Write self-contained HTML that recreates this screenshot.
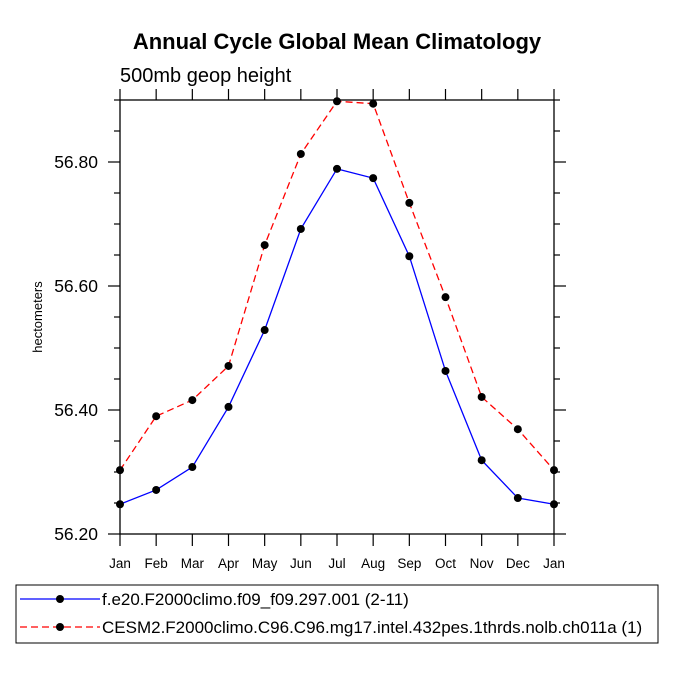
<!DOCTYPE html>
<html><head><meta charset="utf-8"><style>
body{margin:0;background:#fff}
svg text{font-family:"Liberation Sans",Arial,sans-serif;fill:#000}
</style></head><body>
<svg width="675" height="675" xmlns="http://www.w3.org/2000/svg">
<text x="337" y="49" text-anchor="middle" font-size="22" font-weight="bold">Annual Cycle Global Mean Climatology</text>
<text x="120" y="82" font-size="20">500mb geop height</text>
<text transform="translate(42,317) rotate(-90)" text-anchor="middle" font-size="13">hectometers</text>
<g id="axes"></g>
<g id="series"></g>
<rect x="16" y="585" width="642" height="58" fill="none" stroke="#000" stroke-width="1"/>
<g>
<line x1="20" y1="599" x2="100" y2="599" stroke="#0000ff" stroke-width="1.3"/>
<circle cx="60" cy="599" r="4" fill="#000"/>
<text x="102" y="605" font-size="17">f.e20.F2000climo.f09_f09.297.001 (2-11)</text>
</g>
<g>
<line x1="20" y1="627" x2="100" y2="627" stroke="#ff0000" stroke-width="1.3" stroke-dasharray="7,4"/>
<circle cx="60" cy="627" r="4" fill="#000"/>
<text x="102" y="633" font-size="17">CESM2.F2000climo.C96.C96.mg17.intel.432pes.1thrds.nolb.ch011a (1)</text>
</g>
</svg>
<script>
const months=["Jan","Feb","Mar","Apr","May","Jun","Jul","Aug","Sep","Oct","Nov","Dec","Jan"];
const yTicks=[56.2,56.4,56.6,56.8];
const yTickLabels=["56.20","56.40","56.60","56.80"];
const blueValues=[56.248,56.271,56.308,56.405,56.529,56.692,56.789,56.774,56.648,56.463,56.319,56.258,56.248];
const redValues=[56.303,56.390,56.416,56.471,56.666,56.813,56.898,56.894,56.734,56.582,56.421,56.369,56.303];
const L=120,R=554,T=100,B=534,yMin=56.2,yMax=56.9;
const xs=i=>L+(R-L)*i/(months.length-1);
const ys=v=>B-(v-yMin)/(yMax-yMin)*(B-T);
const NS="http://www.w3.org/2000/svg";
function mk(t,a,p){const e=document.createElementNS(NS,t);for(const k in a)e.setAttribute(k,a[k]);p.appendChild(e);return e;}
const ax=document.getElementById('axes');
const frame=mk('rect',{x:L,y:T,width:R-L,height:B-T,fill:'none',stroke:'#000','stroke-width':1.3},ax);


months.forEach((m,i)=>{const x=xs(i);
mk('line',{x1:x,y1:B,x2:x,y2:B+12,stroke:'#000','stroke-width':1.2},ax);
mk('line',{x1:x,y1:T,x2:x,y2:T-11,stroke:'#000','stroke-width':1.2},ax);
const t=mk('text',{x:x,y:B+34,'text-anchor':'middle','font-size':13.5},ax);t.textContent=m;

});
for(let v=yMin;v<=yMax+1e-9;v+=0.05){const y=ys(v);const major=Math.abs((v-yMin)/0.2-Math.round((v-yMin)/0.2))<1e-6;const len=major?12:6;
mk('line',{x1:L-len,y1:y,x2:L,y2:y,stroke:'#000','stroke-width':1.2},ax);
mk('line',{x1:R,y1:y,x2:R+len,y2:y,stroke:'#000','stroke-width':1.2},ax);}
yTicks.forEach((v,i)=>{const t=mk('text',{x:L-22,y:ys(v)+6,'text-anchor':'end','font-size':17.5},ax);t.textContent=yTickLabels[i];

});
const sg=document.getElementById('series');
function series(vals,color,dash,name){const g=mk('g',{},sg);


mk('polyline',{points:vals.map((v,i)=>xs(i)+','+ys(v)).join(' '),fill:'none',stroke:color,'stroke-width':1.3,'stroke-dasharray':dash},g);
vals.forEach((v,i)=>{const c=mk('circle',{cx:xs(i),cy:ys(v),r:4,fill:'#000'},g);

});}
series(blueValues,'#0000ff','none','series-f09');
series(redValues,'#ff0000','7,4','series-c96');
</script>
</body></html>
